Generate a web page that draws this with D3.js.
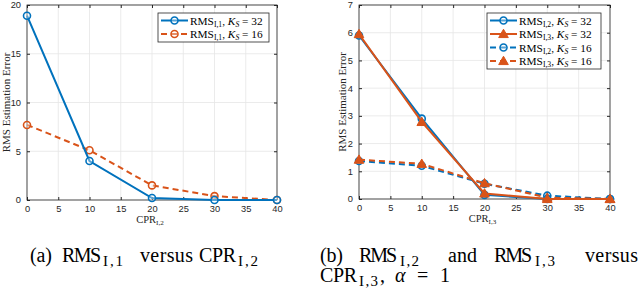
<!DOCTYPE html>
<html>
<head>
<meta charset="utf-8">
<script src="https://cdn.jsdelivr.net/npm/d3@7"></script>
<style>
  body { margin: 0; background: #fff; }
  svg { display: block; }
</style>
</head>
<body>
<div id="chart"></div>
<script>
// data
const cpr = [0, 10, 20, 30, 40];
const rms11K32 = [18.9, 4.0, 0.2, 0.0, 0.0];
const rms11K16 = [7.7, 5.1, 1.5, 0.4, 0.0];
const rms12K32 = [5.9, 2.9, 0.15, 0.0, 0.0];
const rms13K32 = [5.95, 2.78, 0.2, 0.0, 0.0];
const rms12K16 = [1.37, 1.2, 0.55, 0.12, 0.0];
const rms13K16 = [1.42, 1.27, 0.57, 0.05, 0.0];
const xTicks = [0, 5, 10, 15, 20, 25, 30, 35, 40];
const yTicksA = [0, 5, 10, 15, 20];
const yTicksB = [0, 1, 2, 3, 4, 5, 6, 7];

const blue = "#0072BD", orange = "#D95319";
const serif = "'Liberation Serif', 'DejaVu Serif', serif";
const sans = "'Liberation Sans', Arial, sans-serif";

const svg = d3.select("#chart").append("svg")
    .attr("width", 640).attr("height", 291)
    .attr("viewBox", [0, 0, 640, 291]);

// subscripted text helper: parts = [[text, kind], ...]
function richText(g, parts, size) {
  const t = g.append("text").attr("font-family", serif).attr("font-size", size);
  parts.forEach(([s, kind]) => {
    const sp = t.append("tspan").text(s);
    if (kind === "sub") sp.attr("font-size", size * 0.68).attr("dy", size * 0.22);
    else if (kind === "sub2") sp.attr("font-size", size * 0.68);
    else if (kind === "back") sp.attr("dy", -size * 0.22);
    else if (kind === "it") sp.attr("font-style", "italic");
    else if (kind === "itsub") sp.attr("font-style", "italic").attr("font-size", size * 0.68).attr("dy", size * 0.22);
  });
  return t;
}

function panel({left, right, top, bottom, yMax, yTicks, series, xlabelSub, ylabelX, legend}) {
  const x = d3.scaleLinear([0, 40], [left, right]);
  const y = d3.scaleLinear([0, yMax], [bottom, top]);
  const g = svg.append("g");

  // grid
  g.append("g").attr("stroke", "#e6e6e6").attr("stroke-width", 0.8)
    .selectAll("line").data(xTicks).join("line")
      .attr("x1", d => x(d)).attr("x2", d => x(d)).attr("y1", top).attr("y2", bottom);
  g.append("g").attr("stroke", "#e6e6e6").attr("stroke-width", 0.8)
    .selectAll("line").data(yTicks).join("line")
      .attr("y1", d => y(d)).attr("y2", d => y(d)).attr("x1", left).attr("x2", right);

  // axes (ticks inward)
  const ax = g.append("g");
  ax.append("g").attr("transform", `translate(0,${bottom})`)
    .call(d3.axisBottom(x).tickValues(xTicks).tickSize(-3).tickPadding(5))
    .call(s => s.select(".domain").remove());
  ax.append("g").attr("transform", `translate(0,${top})`)
    .call(d3.axisTop(x).tickValues(xTicks).tickSize(-3).tickFormat(""))
    .call(s => s.select(".domain").remove());
  ax.append("g").attr("transform", `translate(${left},0)`)
    .call(d3.axisLeft(y).tickValues(yTicks).tickSize(-3).tickPadding(6).tickFormat(d3.format("d")))
    .call(s => s.select(".domain").remove());
  ax.append("g").attr("transform", `translate(${right},0)`)
    .call(d3.axisRight(y).tickValues(yTicks).tickSize(-3).tickFormat(""))
    .call(s => s.select(".domain").remove());
  ax.selectAll("g").attr("font-family", sans).attr("font-size", 9.3);
  ax.selectAll("text").attr("fill", "#262626");
  ax.selectAll("line").attr("stroke", "#262626");
  g.append("rect").attr("x", left).attr("y", top).attr("width", right - left).attr("height", bottom - top)
    .attr("fill", "none").attr("stroke", "#262626").attr("stroke-width", 0.8);

  // series
  const line = d3.line().x((d, i) => x(cpr[i])).y(d => y(d));
  series.forEach(s => {
    g.append("path").datum(s.values).attr("d", line).attr("fill", "none")
      .attr("stroke", s.color).attr("stroke-width", 2)
      .attr("stroke-dasharray", s.dash ? "6,4" : null);
    drawMarkers(g, s, s.values.map((v, i) => [x(cpr[i]), y(v)]));
  });

  // axis labels
  richText(g, [["RMS Estimation Error"]], 11)
    .attr("transform", `translate(${ylabelX},${(top + bottom) / 2}) rotate(-90)`)
    .attr("text-anchor", "middle").attr("fill", "#262626");
  richText(g, [["CPR"], ["I,", "sub"], [xlabelSub, "sub2"]], 10.5)
    .attr("x", (left + right) / 2 - 2).attr("y", bottom + 22.5).attr("text-anchor", "middle").attr("fill", "#262626");

  // legend
  const lg = g.append("g");
  lg.append("rect").attr("x", legend.x).attr("y", legend.y).attr("width", legend.w).attr("height", legend.h)
    .attr("fill", "#fff").attr("stroke", "#262626").attr("stroke-width", 0.8);
  legend.items.forEach((it, i) => {
    const cy = legend.y + 7.5 + i * 13.5;
    const x0 = legend.x + 3, x1 = legend.x + 30;
    lg.append("line").attr("x1", x0).attr("x2", x1).attr("y1", cy).attr("y2", cy)
      .attr("stroke", it.color).attr("stroke-width", 2).attr("stroke-dasharray", it.dash ? "6,4" : null);
    drawMarkers(lg, it, [[(x0 + x1) / 2, cy]]);
    richText(lg, [["RMS"], ["I,", "sub"], [it.sub, "sub2"], [", ", "back"], ["K", "it"], ["S", "itsub"], [" = " + it.k, "back"]], 11.3)
      .attr("x", x1 + 2).attr("y", cy + 4).attr("fill", "#000");
  });
}

function drawMarkers(g, s, pts) {
  if (s.marker === "circle") {
    g.append("g").selectAll("circle").data(pts).join("circle")
      .attr("cx", d => d[0]).attr("cy", d => d[1]).attr("r", 3.5)
      .attr("fill", "#fff").attr("fill-opacity", 0.35).attr("stroke", s.color).attr("stroke-width", 1.6);
  } else {
    const tri = d3.symbol(d3.symbolTriangle, 40);
    g.append("g").selectAll("path").data(pts).join("path")
      .attr("transform", d => `translate(${d[0]},${d[1] + 0.8})`).attr("d", tri)
      .attr("fill", s.color).attr("stroke", s.color).attr("stroke-width", 1);
  }
}

panel({
  left: 27, right: 277, top: 5, bottom: 200, yMax: 20, yTicks: yTicksA, xlabelSub: "2", ylabelX: 10,
  series: [
    {values: rms11K16, color: orange, dash: true, marker: "circle"},
    {values: rms11K32, color: blue, dash: false, marker: "circle"}
  ],
  legend: {x: 158, y: 13, w: 111, h: 29, items: [
    {color: blue, dash: false, marker: "circle", sub: "1", k: 32},
    {color: orange, dash: true, marker: "circle", sub: "1", k: 16}
  ]}
});

panel({
  left: 359, right: 610, top: 5, bottom: 199, yMax: 7, yTicks: yTicksB, xlabelSub: "3", ylabelX: 346,
  series: [
    {values: rms12K16, color: blue, dash: true, marker: "circle"},
    {values: rms13K16, color: orange, dash: true, marker: "triangle"},
    {values: rms12K32, color: blue, dash: false, marker: "circle"},
    {values: rms13K32, color: orange, dash: false, marker: "triangle"}
  ],
  legend: {x: 487, y: 13, w: 114, h: 56, items: [
    {color: blue, dash: false, marker: "circle", sub: "2", k: 32},
    {color: orange, dash: false, marker: "triangle", sub: "3", k: 32},
    {color: blue, dash: true, marker: "circle", sub: "2", k: 16},
    {color: orange, dash: true, marker: "triangle", sub: "3", k: 16}
  ]}
});

// captions: each piece at its own x, spaced out to the width seen in
// the original (the text there is justified)
const capSize = 20;
function piece(s, x, w, y, kind) {
  const t = svg.append("text").attr("font-family", serif).attr("fill", "#000")
    .attr("x", x).attr("y", y).text(s)
    .attr("textLength", w).attr("lengthAdjust", "spacing");
  if (kind === "sub") t.attr("font-size", capSize * 0.75).attr("y", y + 3.5);
  else t.attr("font-size", capSize);
  if (kind === "it") t.attr("font-style", "italic");
  return t;
}
const capY1 = 262, capY2 = 282;
piece("(a)", 30, 22, capY1);
piece("RMS", 62, 39, capY1);
piece("I,1", 103, 20, capY1, "sub");
piece("versus", 140, 53, capY1);
piece("CPR", 199, 37, capY1);
piece("I,2", 238, 20, capY1, "sub");

piece("(b)", 320, 23, capY1);
piece("RMS", 359, 38, capY1);
piece("I,2", 400, 19, capY1, "sub");
piece("and", 448, 29, capY1);
piece("RMS", 494, 38, capY1);
piece("I,3", 535, 20, capY1, "sub");
piece("versus", 585, 53, capY1);
piece("CPR", 320, 37, capY2);
piece("I,3", 359, 19, capY2, "sub");
piece(",", 380, 4, capY2);
piece("α", 395, 12, capY2, "it");
piece("=", 417, 15, capY2);
piece("1", 440, 9, capY2);
</script>
</body>
</html>
